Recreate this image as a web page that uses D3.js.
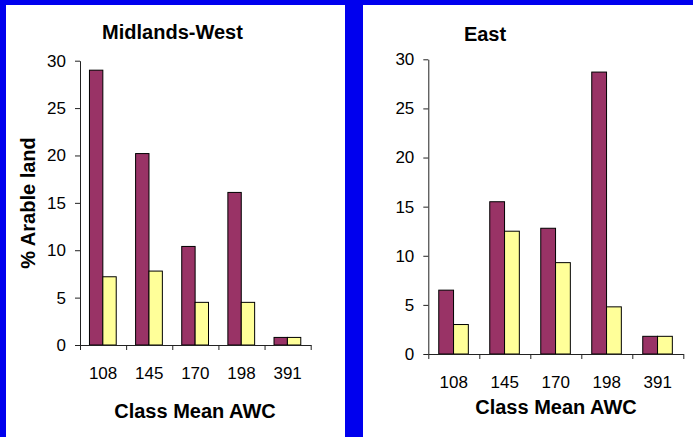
<!DOCTYPE html>
<html>
<head>
<meta charset="utf-8">
<script src="https://cdn.jsdelivr.net/npm/d3@7"></script>
<style>
  html, body { margin: 0; padding: 0; background: #fff; }
  svg { display: block; }
  text { font-family: "Liberation Sans", Arial, sans-serif; fill: #000; }
</style>
</head>
<body>
<svg id="chart" width="693" height="437"></svg>
<script>
// Available water capacity classes (class mean AWC)
const categories = ["108", "145", "170", "198", "391"];

// % of arable land per AWC class, two series per region
const westSeries1 = [29.0, 20.2, 10.4, 16.1, 0.8];
const westSeries2 = [7.2, 7.8, 4.5, 4.5, 0.8];
const eastSeries1 = [6.5, 15.5, 12.8, 28.7, 1.8];
const eastSeries2 = [3.0, 12.5, 9.3, 4.8, 1.8];

const yTicks = [0, 5, 10, 15, 20, 25, 30];

const seriesColors = ["#993366", "#ffff99"];

const svg = d3.select("#chart");

// Blue frame with two white panels
svg.append("rect").attr("width", 693).attr("height", 437).attr("fill", "#0000ee");
svg.append("rect").attr("x", 6).attr("y", 5).attr("width", 339).attr("height", 432).attr("fill", "#fff");
svg.append("rect").attr("x", 363).attr("y", 5).attr("width", 330).attr("height", 432).attr("fill", "#fff");

function drawPanel(cfg) {
  const g = svg.append("g");

  const x = d3.scaleBand().domain(categories).range([cfg.x0, cfg.x1]).padding(0);
  const xSub = d3.scaleBand().domain([0, 1])
    .range([x.step() * 0.205, x.step() * 0.785]).padding(0);
  const y = d3.scaleLinear().domain([0, 30]).range([cfg.y0, cfg.y1]);

  // bars
  const rows = categories.map((c, i) => ({ cat: c, vals: [cfg.s1[i], cfg.s2[i]] }));
  const groups = g.selectAll("g.grp").data(rows).join("g")
    .attr("class", "grp")
    .attr("transform", d => `translate(${x(d.cat)},0)`);
  groups.selectAll("rect").data(d => d.vals.map((v, k) => ({ v, k }))).join("rect")
    .attr("x", d => xSub(d.k))
    .attr("width", xSub.bandwidth())
    .attr("y", d => y(d.v))
    .attr("height", d => y(0) - y(d.v))
    .attr("fill", d => seriesColors[d.k])
    .attr("stroke", "#000")
    .attr("stroke-width", 1);

  // y axis
  const yAxis = g.append("g")
    .attr("transform", `translate(${cfg.x0},0)`)
    .call(d3.axisLeft(y).tickValues(yTicks).tickSize(5).tickSizeOuter(0).tickPadding(9));
  yAxis.select(".domain").attr("stroke", "#222");
  yAxis.selectAll(".tick line").attr("stroke", "#222");
  yAxis.selectAll("text").attr("font-size", 17).attr("fill", "#000")
    .attr("font-family", "Liberation Sans, Arial, sans-serif");

  // x axis: labels at band centres
  const xAxis = g.append("g")
    .attr("transform", `translate(0,${cfg.y0})`)
    .call(d3.axisBottom(x).tickSize(0).tickSizeOuter(0).tickPadding(cfg.labelPad));
  xAxis.select(".domain").attr("stroke", "#222");
  xAxis.selectAll("text").attr("font-size", 17).attr("fill", "#000")
    .attr("font-family", "Liberation Sans, Arial, sans-serif");

  // x axis: tick marks on the band boundaries
  const bounds = categories.map(c => x(c)).concat([cfg.x1]);
  const xb = d3.scaleLinear().domain([cfg.x0, cfg.x1]).range([cfg.x0, cfg.x1]);
  const xTickAxis = g.append("g")
    .attr("transform", `translate(0,${cfg.y0})`)
    .call(d3.axisBottom(xb).tickValues(bounds).tickSize(5).tickSizeOuter(0).tickFormat(""));
  xTickAxis.select(".domain").remove();
  xTickAxis.selectAll(".tick line").attr("stroke", "#222");

  // titles
  g.append("text")
    .attr("x", cfg.titleX).attr("y", cfg.titleY)
    .attr("text-anchor", "middle")
    .attr("font-size", 20).attr("font-weight", "bold")
    .text(cfg.title);

  g.append("text")
    .attr("x", cfg.xTitleX).attr("y", cfg.xTitleY)
    .attr("text-anchor", "middle")
    .attr("font-size", 20).attr("font-weight", "bold")
    .text("Class Mean AWC");

  if (cfg.yTitle) {
    g.append("text")
      .attr("transform", `translate(${cfg.yTitleX},${cfg.yTitleY}) rotate(-90)`)
      .attr("text-anchor", "middle")
      .attr("font-size", 20).attr("font-weight", "bold")
      .text(cfg.yTitle);
  }
}

drawPanel({
  s1: westSeries1, s2: westSeries2,
  x0: 80, x1: 310.7, y0: 345, y1: 60.7,
  labelPad: 22,
  title: "Midlands-West", titleX: 172.5, titleY: 39,
  xTitleX: 195, xTitleY: 418,
  yTitle: "% Arable land", yTitleX: 34.5, yTitleY: 203
});

drawPanel({
  s1: eastSeries1, s2: eastSeries2,
  x0: 428.3, x1: 683.3, y0: 354, y1: 59.3,
  labelPad: 21.6,
  title: "East", titleX: 485, titleY: 40.5,
  xTitleX: 556, xTitleY: 414.3
});
</script>
</body>
</html>
